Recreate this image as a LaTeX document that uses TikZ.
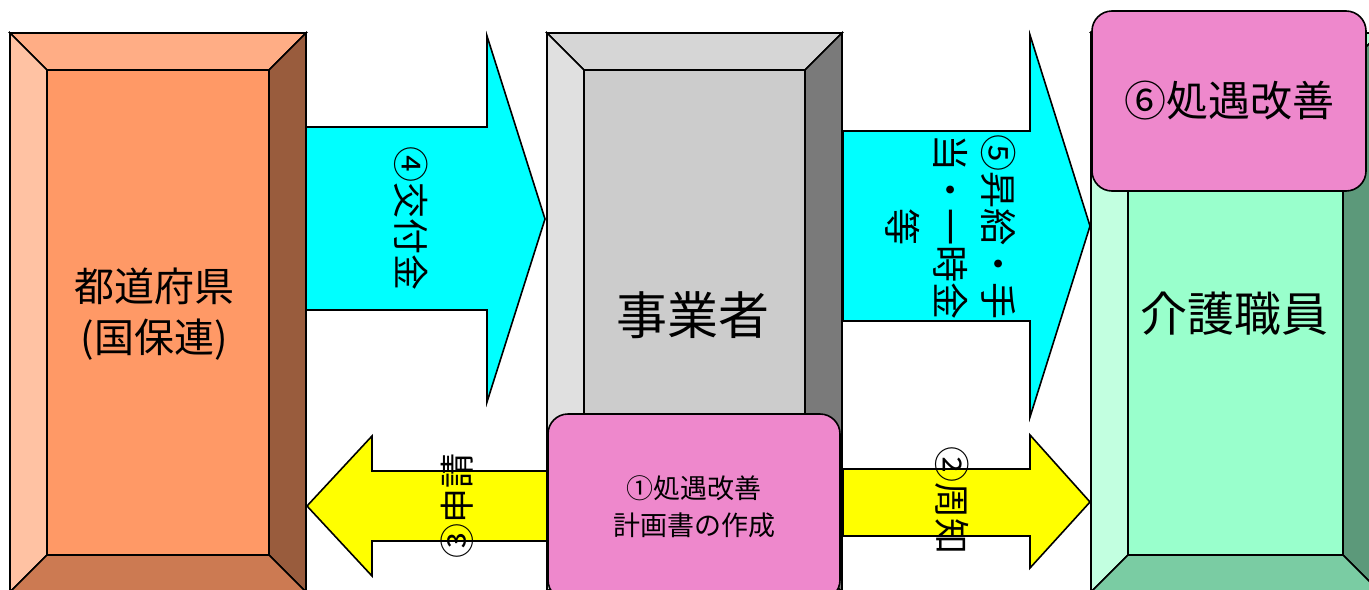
\documentclass[tikz,border=0pt]{standalone}
\usepackage{fontspec}
\setmainfont{Noto Sans CJK JP}
\usetikzlibrary{calc}

\definecolor{prefcol}{HTML}{FF9966}
\definecolor{officecol}{HTML}{CCCCCC}
\definecolor{staffcol}{HTML}{99FFCC}
\definecolor{pinkcol}{HTML}{EE88CC}
\definecolor{moneycol}{HTML}{00FFFF}
\definecolor{papercol}{HTML}{FFFF00}

% bevelled box: x1, y1, x2, y2, colour
\newcommand{\bevelbox}[5]{%
    \coordinate (nw) at (#1,#2);
    \coordinate (ne) at (#3,#2);
    \coordinate (se) at (#3,#4);
    \coordinate (sw) at (#1,#4);
    \coordinate (inw) at ($(nw)+(37,37)$);
    \coordinate (ine) at ($(ne)+(-37,37)$);
    \coordinate (ise) at ($(se)+(-37,-37)$);
    \coordinate (isw) at ($(sw)+(37,-37)$);
    \filldraw [fill=#5!80!white] (nw) -- (ne) -- (ine) -- (inw) -- cycle;
    \filldraw [fill=#5!60!white] (nw) -- (inw) -- (isw) -- (sw) -- cycle;
    \filldraw [fill=#5!60!black] (ne) -- (se) -- (ise) -- (ine) -- cycle;
    \filldraw [fill=#5!80!black] (sw) -- (isw) -- (ise) -- (se) -- cycle;
    \filldraw [fill=#5] (inw) rectangle (ise);
}

\begin{document}
\begin{tikzpicture}[x=0.5pt,y=-0.5pt,line width=0.8pt,line join=miter,
    pinkbox/.style={draw, fill=pinkcol, rounded corners=10pt, align=center},
    boxtext/.style={align=center, inner sep=0pt}]
    \clip (0,0) rectangle (1369,589);
    % the three bodies
    \bevelbox{10}{33}{306}{592}{prefcol}
    \bevelbox{547}{33}{842}{592}{officecol}
    \bevelbox{1091}{33}{1380}{592}{staffcol}
    % block arrows
    \filldraw [fill=moneycol] (306,127) -- (487,127) -- (487,36) -- (545,219)
        -- (487,402) -- (487,310) -- (306,310) -- cycle;
    \filldraw [fill=moneycol] (843,131) -- (1030,131) -- (1030,35) -- (1090,226)
        -- (1030,417) -- (1030,321) -- (843,321) -- cycle;
    \filldraw [fill=papercol] (547,471) -- (372,471) -- (372,436) -- (307,506)
        -- (372,576) -- (372,541) -- (547,541) -- cycle;
    \filldraw [fill=papercol] (843,469) -- (1030,469) -- (1030,435) -- (1090,502)
        -- (1030,568) -- (1030,536) -- (843,536) -- cycle;
    % pink boxes
    \node [pinkbox, minimum width=146pt, minimum height=93pt,
        font=\fontsize{13.5pt}{18.5pt}\selectfont] (plan) at (694,507)
        {①処遇改善\\計画書の作成};
    \node [pinkbox, minimum width=137pt, minimum height=90pt,
        font=\fontsize{21pt}{25pt}\selectfont] (improve) at (1229,101)
        {⑥処遇改善};
    % labels
    \node [boxtext, font=\fontsize{20pt}{25.5pt}\selectfont] (pref) at (154,314)
        {都道府県\\(国保連)};
    \node [boxtext, font=\fontsize{25.5pt}{30pt}\selectfont] (office) at (693,315) {事業者};
    \node [boxtext, font=\fontsize{23.5pt}{28pt}\selectfont] (staff) at (1234,314) {介護職員};
    \node [boxtext, rotate=-90, font=\fontsize{18pt}{24pt}\selectfont] (grant) at (411,218) {④交付金};
    \node [boxtext, rotate=-90, font=\fontsize{18.5pt}{24pt}\selectfont] (raise) at (951,227)
        {⑤昇給・手\\当・一時金\\等};
    \node [boxtext, rotate=90, font=\fontsize{17.5pt}{22pt}\selectfont] (apply) at (457,506) {③申請};
    \node [boxtext, rotate=-90, font=\fontsize{18pt}{22pt}\selectfont] (notice) at (952,500) {②周知};
\end{tikzpicture}
\end{document}
